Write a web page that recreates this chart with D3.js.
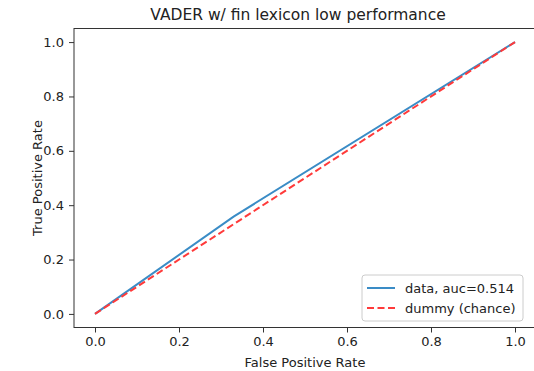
<!DOCTYPE html>
<html>
<head>
<meta charset="utf-8">
<script src="https://cdn.jsdelivr.net/npm/d3@7"></script>
<style>
  body { margin: 0; background: #fff; }
  text { font-family: "DejaVu Sans", sans-serif; fill: #222; }
</style>
</head>
<body>
<svg width="534" height="371"></svg>
<script>
const fpr = [0, 0.33, 1];
const tpr = [0, 0.358, 1];
const chanceX = [0, 1];
const chanceY = [0, 1];
const ticks = [0, 0.2, 0.4, 0.6, 0.8, 1.0];
const legendLabels = ["data, auc=0.514", "dummy (chance)"];

const w = 534, h = 371;
const padLeft = 74, padRight = 536, padTop = 28.5, padBottom = 327.5;

let svg = d3.select("svg");

// matplotlib style 5% margins
let x = d3.scaleLinear().domain([-0.05, 1.05]).range([padLeft, padRight]);
let y = d3.scaleLinear().domain([-0.05, 1.05]).range([padBottom, padTop]);

let xAxis = d3.axisBottom(x).tickValues(ticks).tickFormat(d3.format(".1f")).tickSize(5).tickPadding(4);
let yAxis = d3.axisLeft(y).tickValues(ticks).tickFormat(d3.format(".1f")).tickSize(5).tickPadding(5);

let gx = svg.append("g").attr("transform", `translate(0, ${padBottom})`).call(xAxis);
let gy = svg.append("g").attr("transform", `translate(${padLeft}, 0)`).call(yAxis);
[gx, gy].forEach(g => {
  g.select(".domain").remove();
  g.selectAll("line").attr("stroke", "#333");
  g.selectAll("text").style("font-size", "13px").attr("fill", "#333");
});

// frame
svg.append("rect")
   .attr("x", padLeft).attr("y", padTop)
   .attr("width", padRight - padLeft).attr("height", padBottom - padTop)
   .attr("fill", "none").attr("stroke", "#333").attr("stroke-width", 1);

let line = d3.line().x(d => x(d[0])).y(d => y(d[1]));

svg.append("path")
   .datum(fpr.map((v, i) => [v, tpr[i]]))
   .attr("d", line)
   .attr("fill", "none")
   .attr("stroke", "#3a8cc6")
   .attr("stroke-width", 2);

svg.append("path")
   .datum(chanceX.map((v, i) => [v, chanceY[i]]))
   .attr("d", line)
   .attr("fill", "none")
   .attr("stroke", "#ff3a3a")
   .attr("stroke-width", 2)
   .attr("stroke-dasharray", "7,3.5");

// title and labels
svg.append("text").attr("x", 298).attr("y", 20)
   .attr("text-anchor", "middle").style("font-size", "15.5px").text("VADER w/ fin lexicon low performance");
svg.append("text").attr("x", x(0.5)).attr("y", 367)
   .attr("text-anchor", "middle").style("font-size", "13px").text("False Positive Rate");
svg.append("text").attr("transform", `translate(42, ${y(0.5)}) rotate(-90)`)
   .attr("text-anchor", "middle").style("font-size", "13px").text("True Positive Rate");

// legend
let lg = svg.append("g");
lg.append("rect").attr("x", 362).attr("y", 275).attr("width", 161).attr("height", 46)
  .attr("rx", 3).attr("fill", "#fff").attr("fill-opacity", 0.8).attr("stroke", "#ccc");
legendLabels.forEach((t, i) => {
  let yy = 288 + i * 20;
  lg.append("line").attr("x1", 367).attr("x2", 395).attr("y1", yy).attr("y2", yy)
    .attr("stroke", i === 0 ? "#3a8cc6" : "#ff3a3a").attr("stroke-width", 2)
    .attr("stroke-dasharray", i === 0 ? null : "7,3.5");
  lg.append("text").attr("x", 405).attr("y", yy + 5).style("font-size", "13px").text(t);
});
</script>
</body>
</html>
